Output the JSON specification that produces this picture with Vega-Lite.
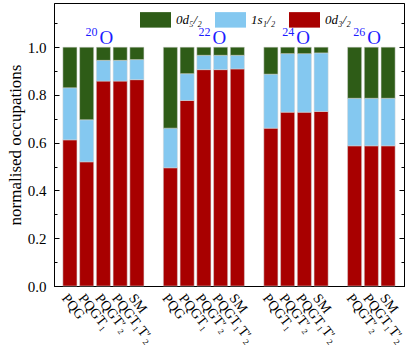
{
  "$schema": "https://vega.github.io/schema/vega-lite/v6.json",
  "width": 350,
  "height": 283,
  "autosize": {"type": "none"},
  "padding": {"left": 54, "top": 3, "right": 11, "bottom": 70},
  "config": {
    "font": "Liberation Serif",
    "view": {"stroke": "black", "strokeWidth": 1},
    "axis": {"domainColor": "black", "tickColor": "black", "labelColor": "black", "titleColor": "black", "labelFont": "Liberation Serif", "titleFont": "Liberation Serif", "grid": false}
  },
  "resolve": {"axis": {"y": "independent"}},
  "layer": [
    {
      "data": {"values": [
        {"slot": "20O|PQG", "d32": 0.612, "s12": 0.218, "d52": 0.170},
        {"slot": "20O|PQGT₁", "d32": 0.520, "s12": 0.176, "d52": 0.304},
        {"slot": "20O|PQGT′₂", "d32": 0.858, "s12": 0.087, "d52": 0.055},
        {"slot": "20O|PQGT₁T′₂", "d32": 0.858, "s12": 0.087, "d52": 0.055},
        {"slot": "20O|SM", "d32": 0.864, "s12": 0.084, "d52": 0.052},
        {"slot": "22O|PQG", "d32": 0.495, "s12": 0.166, "d52": 0.339},
        {"slot": "22O|PQGT₁", "d32": 0.777, "s12": 0.112, "d52": 0.111},
        {"slot": "22O|PQGT′₂", "d32": 0.906, "s12": 0.060, "d52": 0.034},
        {"slot": "22O|PQGT₁T′₂", "d32": 0.906, "s12": 0.060, "d52": 0.034},
        {"slot": "22O|SM", "d32": 0.909, "s12": 0.057, "d52": 0.034},
        {"slot": "24O|PQGT₁", "d32": 0.661, "s12": 0.226, "d52": 0.113},
        {"slot": "24O|PQGT′₂", "d32": 0.728, "s12": 0.245, "d52": 0.027},
        {"slot": "24O|PQGT₁T′₂", "d32": 0.728, "s12": 0.245, "d52": 0.027},
        {"slot": "24O|SM", "d32": 0.731, "s12": 0.245, "d52": 0.024},
        {"slot": "26O|PQGT′₂", "d32": 0.587, "s12": 0.199, "d52": 0.214},
        {"slot": "26O|PQGT₁T′₂", "d32": 0.587, "s12": 0.199, "d52": 0.214},
        {"slot": "26O|SM", "d32": 0.587, "s12": 0.199, "d52": 0.214}
      ]},
      "transform": [
        {"fold": ["d32", "s12", "d52"], "as": ["orbital", "occ"]},
        {"calculate": "indexof(['d32','s12','d52'], datum.orbital)", "as": "ord"}
      ],
      "mark": {"type": "bar", "stroke": "#d4d4d4", "strokeWidth": 0.5},
      "encoding": {
        "x": {
          "field": "slot", "type": "nominal",
          "scale": {
            "domain": ["20O|PQG", "20O|PQGT₁", "20O|PQGT′₂", "20O|PQGT₁T′₂", "20O|SM", "g1", "22O|PQG", "22O|PQGT₁", "22O|PQGT′₂", "22O|PQGT₁T′₂", "22O|SM", "g2", "24O|PQGT₁", "24O|PQGT′₂", "24O|PQGT₁T′₂", "24O|SM", "g3", "26O|PQGT′₂", "26O|PQGT₁T′₂", "26O|SM"],
            "paddingInner": 0.16, "paddingOuter": 0.53
          },
          "axis": {"title": null, "ticks": false, "labelAngle": 52, "labelAlign": "left", "labelBaseline": "top", "labelFontSize": 14, "labelPadding": 5, "labelOverlap": false,
            "labelExpr": "indexof(datum.value,'|') > 0 ? split(datum.value,'|')[1] : ''"}
        },
        "y": {
          "field": "occ", "type": "quantitative", "stack": "zero",
          "scale": {"domain": [0, 1.185], "nice": false, "zero": true},
          "axis": {"title": "normalised occupations", "titleFontSize": 17, "titleFontWeight": "normal", "titlePadding": 3,
            "values": [0, 0.1, 0.2, 0.3, 0.4, 0.5, 0.6, 0.7, 0.8, 0.9, 1.0, 1.1],
            "labelExpr": "round(datum.value*10) % 2 == 0 ? format(datum.value, '.1f') : ''",
            "labelFontSize": 15, "labelPadding": 13,
            "tickSize": {"condition": {"test": "round(datum.value*10) % 2 == 0", "value": -5}, "value": -3}}
        },
        "color": {
          "field": "orbital", "type": "nominal",
          "scale": {"domain": ["d52", "s12", "d32"], "range": ["#2e5c17", "#84c8f0", "#a80000"]},
          "legend": {"orient": "none", "legendX": 86, "legendY": 1, "direction": "horizontal", "title": null,
            "symbolType": "M-1,-0.5H1V0.5H-1Z", "symbolSize": 961, "symbolStrokeWidth": 0, "symbolOpacity": 1,
            "labelFontSize": 13, "labelFont": "Liberation Serif", "labelFontStyle": "italic", "labelColor": "black", "labelOffset": 5, "columnPadding": 13,
            "labelExpr": "{'d52':'0d₅/₂','s12':'1s₁/₂','d32':'0d₃/₂'}[datum.value]"}
        },
        "order": {"field": "ord", "type": "quantitative"}
      }
    },
    {
      "data": {"values": [
        {"mass": "20", "sym": "O", "slot": "20O|PQGT′₂"},
        {"mass": "26", "sym": "O", "slot": "26O|PQGT₁T′₂"}
      ]},
      "encoding": {
        "x": {"field": "slot", "type": "nominal"},
        "y": {"datum": 1.015, "type": "quantitative", "axis": null}
      },
      "layer": [
        {"mark": {"type": "text", "fontSize": 12, "color": "#1c1cff", "baseline": "alphabetic", "align": "right", "dx": -6, "dy": -8, "font": "Liberation Serif"},
         "encoding": {"text": {"field": "mass"}}},
        {"mark": {"type": "text", "fontSize": 19, "color": "#1c1cff", "baseline": "alphabetic", "align": "left", "dx": -4, "font": "Liberation Serif"},
         "encoding": {"text": {"field": "sym"}}}
      ]
    },
    {
      "data": {"values": [
        {"mass": "22", "sym": "O", "slot": "22O|PQGT₁T′₂"},
        {"mass": "24", "sym": "O", "slot": "24O|PQGT₁T′₂"}
      ]},
      "encoding": {
        "x": {"field": "slot", "type": "nominal", "bandPosition": 0},
        "y": {"datum": 1.015, "type": "quantitative",
          "axis": {"orient": "right", "title": null, "labels": false,
            "values": [0, 0.1, 0.2, 0.3, 0.4, 0.5, 0.6, 0.7, 0.8, 0.9, 1.0, 1.1],
            "tickSize": {"condition": {"test": "round(datum.value*10) % 2 == 0", "value": -5}, "value": -3}}}
      },
      "layer": [
        {"mark": {"type": "text", "fontSize": 12, "color": "#1c1cff", "baseline": "alphabetic", "align": "right", "dx": -3, "dy": -8, "font": "Liberation Serif"},
         "encoding": {"text": {"field": "mass"}}},
        {"mark": {"type": "text", "fontSize": 19, "color": "#1c1cff", "baseline": "alphabetic", "align": "left", "dx": -1, "font": "Liberation Serif"},
         "encoding": {"text": {"field": "sym"}}}
      ]
    }
  ]
}
